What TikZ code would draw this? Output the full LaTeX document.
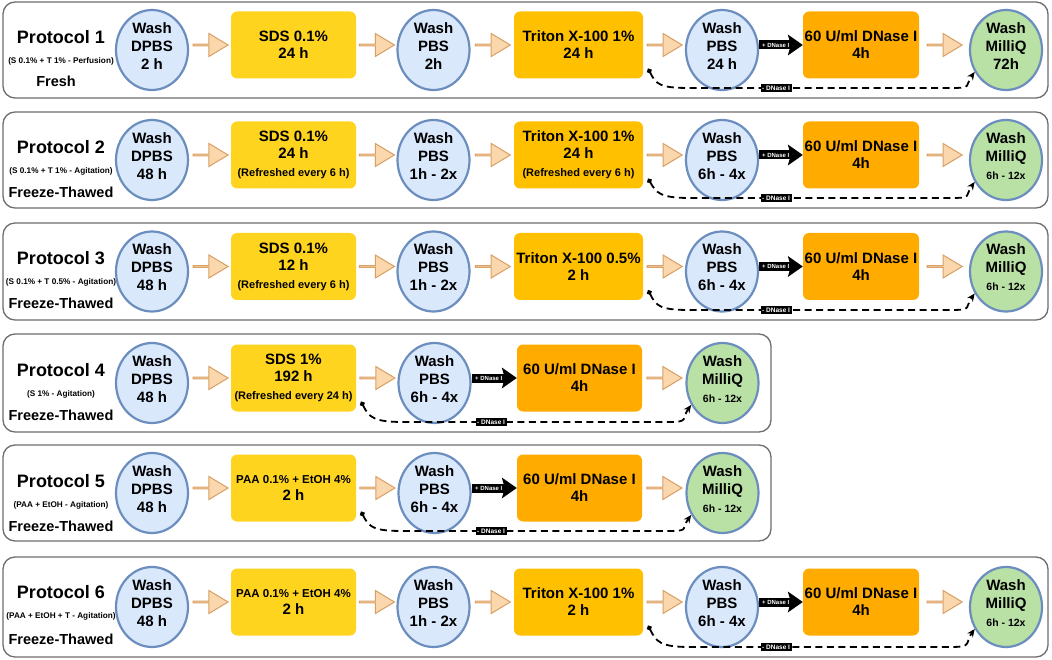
\documentclass[tikz,border=0pt]{standalone}
\usepackage{fontspec}
\setmainfont{Liberation Sans}
\usetikzlibrary{arrows.meta,shapes.geometric,shapes.arrows,calc}

\definecolor{panelline}{HTML}{6E6E6E}
\definecolor{washblue}{HTML}{DAE8FC}
\definecolor{washline}{HTML}{6C8EBF}
\definecolor{rinsegreen}{HTML}{B9E0A5}
\definecolor{sdsyellow}{HTML}{FFD41F}
\definecolor{tritonorange}{HTML}{FFC000}
\definecolor{dnaseorange}{HTML}{FFAB00}
\definecolor{flowfill}{HTML}{FAD7AC}
\definecolor{flowline}{HTML}{D9A066}

\newcommand\notefont{\fontsize{11}{13}\selectfont}
\newcommand\repfont{\fontsize{10.5}{12}\selectfont}
% orange step arrow between two nodes, at the height of a box
\newcommand\flowarrow[4]{\path ($(#2.east)!.5!(#3.west)$) coordinate (#1x);
  \node[flow] (#1) at (#1x |- #4) {};}

\begin{document}
\begin{tikzpicture}[x=1pt, y=-1pt,
  panel/.style={draw=panelline, line width=1.3pt, rounded corners=12pt},
  protname/.style={font=\fontsize{18}{21}\selectfont\bfseries},
  protsub/.style={font=\fontsize{8.2}{10}\selectfont\bfseries},
  protstate/.style={font=\fontsize{14.5}{17}\selectfont\bfseries},
  wash/.style={ellipse, draw=washline, line width=2.2pt, fill=washblue,
    minimum width=72pt, minimum height=80pt, inner sep=0pt},
  rinse/.style={wash, fill=rinsegreen},
  washtext/.style={align=center, yshift=4pt, inner sep=0pt,
    font=\fontsize{15}{18}\selectfont\bfseries},
  stage/.style={rounded corners=6pt, minimum height=67pt, inner sep=0pt,
    align=center, font=\fontsize{15}{17}\selectfont\bfseries},
  sdsbox/.style={stage, fill=sdsyellow, minimum width=125pt},
  tritonbox/.style={stage, fill=tritonorange, minimum width=129pt},
  dnasebox/.style={stage, fill=dnaseorange, minimum width=116pt},
  flow/.style={single arrow, draw=flowline, fill=flowfill, line width=1pt,
    minimum height=35pt, minimum width=23pt, inner sep=0pt,
    single arrow head extend=7pt, single arrow tip angle=62},
  dnarrow/.style={line width=9pt,
    -{Stealth[length=15pt,width=21pt,inset=3pt,line width=0pt]}},
  dnlabel/.style={text=white, inner sep=0pt,
    font=\fontsize{6}{7}\selectfont\bfseries},
  dntag/.style={fill=black, text=white, inner sep=1.6pt,
    font=\fontsize{6.5}{7.5}\selectfont\bfseries},
  bypass/.style={line width=1.8pt, dash pattern=on 7pt off 4.5pt,
    {Circle[length=5pt]}-{Stealth[length=8pt,width=7pt]}}
]
\useasboundingbox (0,0) rectangle (1052,660);
\fill[white] (0,0) rectangle (1052,660);

% Protocol 1
\draw[panel] (3,2) rectangle (1048,98);
\node[protname] (p1) at (61,37) {Protocol 1};
\node[protsub] (p1s) at (61,61) {(S 0.1\% + T 1\% - Perfusion)};
\node[protstate] (p1f) at (56,81) {Fresh};
\node[wash, label={[washtext]center:{Wash\\DPBS\\2 h}}] (c11) at (152,50) {};
\node[sdsbox] (b11) at (293.5,45) {SDS 0.1\%\\24 h};
\node[wash, label={[washtext]center:{Wash\\PBS\\2h}}] (c12) at (433.5,50) {};
\node[tritonbox] (b12) at (578.5,45) {Triton X-100 1\%\\24 h};
\node[wash, label={[washtext]center:{Wash\\PBS\\24 h}}] (c13) at (722,50) {};
\node[dnasebox] (b13) at (861,45) {60 U/ml DNase I\\4h};
\node[rinse, label={[washtext]center:{Wash\\MilliQ\\72h}}] (c14) at (1006,50) {};
\flowarrow{f11}{c11}{b11}{b11}
\flowarrow{f12}{b11}{c12}{b11}
\flowarrow{f13}{c12}{b12}{b12}
\flowarrow{f14}{b12}{c13}{b12}
\flowarrow{f15}{b13}{c14}{b13}
\draw[dnarrow] (b13.west -| c13.east) -- node[dnlabel, pos=.38] {+ DNase I} (b13.west);
\coordinate (k11) at (690,88);
\coordinate (k12) at (951,88);
\draw[bypass] ([shift={(5,-10)}]b12.south east) .. controls +(8,16) and +(-30,0) .. (k11)
  -- node[dntag, pos=.33] {- DNase I} (k12) .. controls +(22,0) and +(-10,14) .. (c14.215);

% Protocol 2
\draw[panel] (3,112) rectangle (1048,208);
\node[protname] (p2) at (61,147) {Protocol 2};
\node[protsub] (p2s) at (61,171) {(S 0.1\% + T 1\% - Agitation)};
\node[protstate] (p2f) at (61,192) {Freeze-Thawed};
\node[wash, label={[washtext]center:{Wash\\DPBS\\48 h}}] (c21) at (152,160) {};
\node[sdsbox] (b21) at (293.5,155) {SDS 0.1\%\\24 h\\[1pt]{\notefont (Refreshed every 6 h)}};
\node[wash, label={[washtext]center:{Wash\\PBS\\1h - 2x}}] (c22) at (433.5,160) {};
\node[tritonbox] (b22) at (578.5,155) {Triton X-100 1\%\\24 h\\[1pt]{\notefont (Refreshed every 6 h)}};
\node[wash, label={[washtext]center:{Wash\\PBS\\6h - 4x}}] (c23) at (722,160) {};
\node[dnasebox] (b23) at (861,155) {60 U/ml DNase I\\4h};
\node[rinse, label={[washtext]center:{Wash\\MilliQ\\{\repfont 6h - 12x}}}] (c24) at (1006,160) {};
\flowarrow{f21}{c21}{b21}{b21}
\flowarrow{f22}{b21}{c22}{b21}
\flowarrow{f23}{c22}{b22}{b22}
\flowarrow{f24}{b22}{c23}{b22}
\flowarrow{f25}{b23}{c24}{b23}
\draw[dnarrow] (b23.west -| c23.east) -- node[dnlabel, pos=.38] {+ DNase I} (b23.west);
\coordinate (k21) at (690,198);
\coordinate (k22) at (951,198);
\draw[bypass] ([shift={(5,-10)}]b22.south east) .. controls +(8,14) and +(-30,0) .. (k21)
  -- node[dntag, pos=.33] {- DNase I} (k22) .. controls +(22,0) and +(-10,14) .. (c24.215);

% Protocol 3
\draw[panel] (3,223) rectangle (1048,320);
\node[protname] (p3) at (61,258) {Protocol 3};
\node[protsub] (p3s) at (61,282) {(S 0.1\% + T 0.5\% - Agitation)};
\node[protstate] (p3f) at (61,303) {Freeze-Thawed};
\node[wash, label={[washtext]center:{Wash\\DPBS\\48 h}}] (c31) at (152,271.5) {};
\node[sdsbox] (b31) at (293.5,266.5) {SDS 0.1\%\\12 h\\[1pt]{\notefont (Refreshed every 6 h)}};
\node[wash, label={[washtext]center:{Wash\\PBS\\1h - 2x}}] (c32) at (433.5,271.5) {};
\node[tritonbox] (b32) at (578.5,266.5) {Triton X-100 0.5\%\\2 h};
\node[wash, label={[washtext]center:{Wash\\PBS\\6h - 4x}}] (c33) at (722,271.5) {};
\node[dnasebox] (b33) at (861,266.5) {60 U/ml DNase I\\4h};
\node[rinse, label={[washtext]center:{Wash\\MilliQ\\{\repfont 6h - 12x}}}] (c34) at (1006,271.5) {};
\flowarrow{f31}{c31}{b31}{b31}
\flowarrow{f32}{b31}{c32}{b31}
\flowarrow{f33}{c32}{b32}{b32}
\flowarrow{f34}{b32}{c33}{b32}
\flowarrow{f35}{b33}{c34}{b33}
\draw[dnarrow] (b33.west -| c33.east) -- node[dnlabel, pos=.38] {+ DNase I} (b33.west);
\coordinate (k31) at (690,310);
\coordinate (k32) at (951,310);
\draw[bypass] ([shift={(5,-10)}]b32.south east) .. controls +(8,16) and +(-30,0) .. (k31)
  -- node[dntag, pos=.33] {- DNase I} (k32) .. controls +(22,0) and +(-10,14) .. (c34.215);

% Protocol 4
\draw[panel] (3,334) rectangle (771,432);
\node[protname] (p4) at (61,370) {Protocol 4};
\node[protsub] (p4s) at (61,394) {(S 1\% - Agitation)};
\node[protstate] (p4f) at (61,415) {Freeze-Thawed};
\node[wash, label={[washtext]center:{Wash\\DPBS\\48 h}}] (c41) at (152,383) {};
\node[sdsbox] (b41) at (293.5,378) {SDS 1\%\\192 h\\[1pt]{\notefont (Refreshed every 24 h)}};
\node[wash, label={[washtext]center:{Wash\\PBS\\6h - 4x}}] (c42) at (434.5,383) {};
\node[dnasebox, minimum width=125pt] (b42) at (579.5,378) {60 U/ml DNase I\\4h};
\node[rinse, label={[washtext]center:{Wash\\MilliQ\\{\repfont 6h - 12x}}}] (c43) at (722.5,383) {};
\flowarrow{f41}{c41}{b41}{b41}
\flowarrow{f42}{b41}{c42}{b41}
\flowarrow{f43}{b42}{c43}{b42}
\draw[dnarrow] (b42.west -| c42.east) -- node[dnlabel, pos=.38] {+ DNase I} (b42.west);
\coordinate (k41) at (404,422);
\coordinate (k42) at (668,422);
\draw[bypass] ([shift={(5,-10)}]b41.south east) .. controls +(8,16) and +(-30,0) .. (k41)
  -- node[dntag, pos=.33] {- DNase I} (k42) .. controls +(22,0) and +(-10,14) .. (c43.215);

% Protocol 5
\draw[panel] (3,445) rectangle (771,541);
\node[protname] (p5) at (61,481) {Protocol 5};
\node[protsub] (p5s) at (61,505) {(PAA + EtOH - Agitation)};
\node[protstate] (p5f) at (61,526) {Freeze-Thawed};
\node[wash, label={[washtext]center:{Wash\\DPBS\\48 h}}] (c51) at (152,493) {};
\node[sdsbox] (b51) at (293.5,488) {{\fontsize{11.5}{14}\selectfont PAA 0.1\% + EtOH 4\%}\\2 h};
\node[wash, label={[washtext]center:{Wash\\PBS\\6h - 4x}}] (c52) at (434.5,493) {};
\node[dnasebox, minimum width=125pt] (b52) at (579.5,488) {60 U/ml DNase I\\4h};
\node[rinse, label={[washtext]center:{Wash\\MilliQ\\{\repfont 6h - 12x}}}] (c53) at (722.5,493) {};
\flowarrow{f51}{c51}{b51}{b51}
\flowarrow{f52}{b51}{c52}{b51}
\flowarrow{f53}{b52}{c53}{b52}
\draw[dnarrow] (b52.west -| c52.east) -- node[dnlabel, pos=.38] {+ DNase I} (b52.west);
\coordinate (k51) at (404,531);
\coordinate (k52) at (668,531);
\draw[bypass] ([shift={(5,-10)}]b51.south east) .. controls +(8,16) and +(-30,0) .. (k51)
  -- node[dntag, pos=.33] {- DNase I} (k52) .. controls +(22,0) and +(-10,14) .. (c53.215);

% Protocol 6
\draw[panel] (3,557) rectangle (1048,657);
\node[protname] (p6) at (61,592) {Protocol 6};
\node[protsub] (p6s) at (61,616) {(PAA + EtOH + T - Agitation)};
\node[protstate] (p6f) at (61,639) {Freeze-Thawed};
\node[wash, label={[washtext]center:{Wash\\DPBS\\48 h}}] (c61) at (152,607) {};
\node[sdsbox] (b61) at (293.5,602) {{\fontsize{11.5}{14}\selectfont PAA 0.1\% + EtOH 4\%}\\2 h};
\node[wash, label={[washtext]center:{Wash\\PBS\\1h - 2x}}] (c62) at (433.5,607) {};
\node[tritonbox] (b62) at (578.5,602) {Triton X-100 1\%\\2 h};
\node[wash, label={[washtext]center:{Wash\\PBS\\6h - 4x}}] (c63) at (722,607) {};
\node[dnasebox] (b63) at (861,602) {60 U/ml DNase I\\4h};
\node[rinse, label={[washtext]center:{Wash\\MilliQ\\{\repfont 6h - 12x}}}] (c64) at (1006,607) {};
\flowarrow{f61}{c61}{b61}{b61}
\flowarrow{f62}{b61}{c62}{b61}
\flowarrow{f63}{c62}{b62}{b62}
\flowarrow{f64}{b62}{c63}{b62}
\flowarrow{f65}{b63}{c64}{b63}
\draw[dnarrow] (b63.west -| c63.east) -- node[dnlabel, pos=.38] {+ DNase I} (b63.west);
\coordinate (k61) at (690,647);
\coordinate (k62) at (951,647);
\draw[bypass] ([shift={(5,-10)}]b62.south east) .. controls +(8,16) and +(-30,0) .. (k61)
  -- node[dntag, pos=.33] {- DNase I} (k62) .. controls +(22,0) and +(-10,14) .. (c64.215);
\end{tikzpicture}
\end{document}
